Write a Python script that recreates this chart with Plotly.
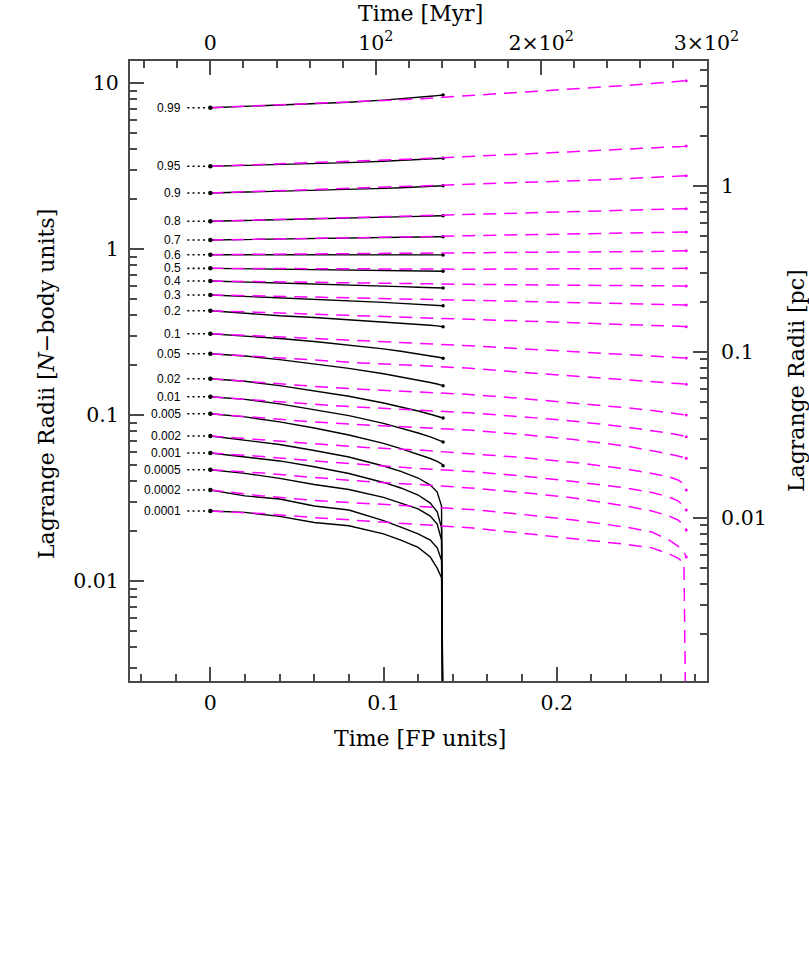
import math
import plotly.graph_objects as go

# ---------------- data ----------------
FRACTION_LABELS = ["0.0001", "0.0002", "0.0005", "0.001", "0.002", "0.005", "0.01", "0.02",
                   "0.05", "0.1", "0.2", "0.3", "0.4", "0.5", "0.6", "0.7", "0.8", "0.9",
                   "0.95", "0.99"]

# time grid of the black (solid) run, FP units
T_BLACK = [0, 0.02, 0.04, 0.06, 0.08, 0.10, 0.11, 0.12, 0.127, 0.131, 0.1335, 0.1344]

# Lagrange radii (N-body units), one row per mass fraction
R_BLACK = [
    [0.0265, 0.0260, 0.0246, 0.0226, 0.0216, 0.0193, 0.0177, 0.0160, 0.0140, 0.0120, 0.0105, 0.0008],
    [0.0355, 0.0327, 0.0313, 0.0284, 0.0269, 0.0232, 0.0212, 0.0193, 0.0177, 0.0159, 0.0134, 0.0008],
    [0.0470, 0.0447, 0.0417, 0.0383, 0.0357, 0.0320, 0.0296, 0.0273, 0.0247, 0.0221, 0.0177, 0.0008],
    [0.0593, 0.0562, 0.0531, 0.0490, 0.0446, 0.0394, 0.0365, 0.0331, 0.0296, 0.0262, 0.0210, 0.0008],
    [0.0750, 0.0710, 0.0667, 0.0614, 0.0561, 0.0495, 0.0459, 0.0419, 0.0380, 0.0345, 0.0284, 0.0008],
    [0.1022, 0.0978, 0.0913, 0.0839, 0.0761, 0.0677, 0.0630, 0.0583, 0.0549, 0.0528, 0.0510, 0.0497],
    [0.1294, 0.1248, 0.1171, 0.1083, 0.0995, 0.0894, 0.0839, 0.0782, 0.0742, 0.0718, 0.0700, 0.0691],
    [0.1661, 0.1602, 0.1510, 0.1408, 0.1303, 0.1186, 0.1125, 0.1061, 0.1015, 0.0990, 0.0971, 0.0963],
    [0.2350, 0.2276, 0.2165, 0.2043, 0.1916, 0.1778, 0.1706, 0.1632, 0.1576, 0.1544, 0.1520, 0.1508],
    [0.3101, 0.3008, 0.2900, 0.2785, 0.2655, 0.2512, 0.2432, 0.2347, 0.2283, 0.2248, 0.2220, 0.2205],
    [0.4267, 0.4115, 0.3975, 0.3883, 0.3771, 0.3652, 0.3591, 0.3527, 0.3488, 0.3459, 0.3430, 0.3416],
    [0.531, 0.521, 0.512, 0.501, 0.491, 0.479, 0.472, 0.466, 0.462, 0.460, 0.458, 0.457],
    [0.644, 0.636, 0.628, 0.620, 0.611, 0.601, 0.596, 0.591, 0.588, 0.586, 0.585, 0.585],
    [0.768, 0.764, 0.760, 0.756, 0.751, 0.745, 0.742, 0.740, 0.738, 0.737, 0.737, 0.737],
    [0.928, 0.928, 0.927, 0.927, 0.926, 0.926, 0.926, 0.925, 0.925, 0.925, 0.925, 0.925],
    [1.138, 1.144, 1.150, 1.157, 1.163, 1.173, 1.178, 1.183, 1.186, 1.190, 1.191, 1.191],
    [1.475, 1.489, 1.504, 1.520, 1.535, 1.557, 1.567, 1.578, 1.587, 1.591, 1.594, 1.594],
    [2.184, 2.208, 2.233, 2.261, 2.289, 2.327, 2.350, 2.376, 2.396, 2.406, 2.413, 2.416],
    [3.162, 3.197, 3.237, 3.282, 3.328, 3.389, 3.427, 3.470, 3.504, 3.518, 3.528, 3.533],
    [7.13, 7.25, 7.38, 7.52, 7.69, 7.92, 8.05, 8.23, 8.36, 8.43, 8.48, 8.50],
]

# time grid of the magenta (dashed) run, FP units
T_MAGENTA = [0, 0.03, 0.06, 0.09, 0.12, 0.15, 0.18, 0.21, 0.24, 0.255, 0.265, 0.27, 0.2735, 0.2748]

R_MAGENTA = [
    [0.0265, 0.0256, 0.0242, 0.0231, 0.0221, 0.0210, 0.0195, 0.0181, 0.0167, 0.0159, 0.0146, 0.0138, 0.0129, 0.0008],
    [0.0355, 0.0327, 0.0307, 0.0294, 0.0284, 0.0271, 0.0253, 0.0234, 0.0212, 0.0198, 0.0177, 0.0163, 0.0150, 0.0140],
    [0.0470, 0.0449, 0.0422, 0.0399, 0.0383, 0.0365, 0.0343, 0.0318, 0.0284, 0.0265, 0.0247, 0.0234, 0.0218, 0.0204],
    [0.0593, 0.0565, 0.0531, 0.0502, 0.0478, 0.0459, 0.0431, 0.0399, 0.0365, 0.0343, 0.0322, 0.0305, 0.0284, 0.0269],
    [0.0750, 0.0710, 0.0672, 0.0640, 0.0618, 0.0589, 0.0557, 0.0520, 0.0475, 0.0446, 0.0425, 0.0408, 0.0386, 0.0355],
    [0.1022, 0.0963, 0.0911, 0.0874, 0.0847, 0.0815, 0.0766, 0.0715, 0.0653, 0.0614, 0.0585, 0.0569, 0.0557, 0.0551],
    [0.1294, 0.1226, 0.1165, 0.1114, 0.1076, 0.1035, 0.0979, 0.0922, 0.0850, 0.0810, 0.0780, 0.0763, 0.0750, 0.0743],
    [0.1661, 0.1574, 0.1493, 0.1430, 0.1387, 0.1334, 0.1262, 0.1189, 0.1110, 0.1069, 0.1040, 0.1022, 0.1011, 0.1004],
    [0.2350, 0.2245, 0.2145, 0.2060, 0.1995, 0.1919, 0.1816, 0.1718, 0.1632, 0.1591, 0.1565, 0.1552, 0.1544, 0.1537],
    [0.3101, 0.2992, 0.2890, 0.2799, 0.2714, 0.2622, 0.2518, 0.2423, 0.2331, 0.2286, 0.2258, 0.2239, 0.2223, 0.2214],
    [0.4267, 0.4157, 0.4054, 0.3960, 0.3873, 0.3788, 0.3705, 0.3629, 0.3545, 0.3499, 0.3466, 0.3446, 0.3427, 0.3416],
    [0.531, 0.522, 0.514, 0.507, 0.500, 0.493, 0.485, 0.479, 0.472, 0.468, 0.466, 0.464, 0.462, 0.462],
    [0.644, 0.637, 0.630, 0.624, 0.619, 0.615, 0.611, 0.608, 0.604, 0.603, 0.602, 0.601, 0.601, 0.601],
    [0.768, 0.765, 0.762, 0.760, 0.758, 0.759, 0.761, 0.762, 0.764, 0.765, 0.766, 0.767, 0.768, 0.768],
    [0.928, 0.932, 0.936, 0.940, 0.945, 0.950, 0.955, 0.961, 0.967, 0.971, 0.975, 0.978, 0.979, 0.981],
    [1.138, 1.149, 1.162, 1.175, 1.191, 1.208, 1.221, 1.233, 1.248, 1.257, 1.262, 1.266, 1.269, 1.271],
    [1.475, 1.502, 1.527, 1.555, 1.587, 1.620, 1.650, 1.677, 1.705, 1.725, 1.737, 1.745, 1.752, 1.757],
    [2.184, 2.236, 2.286, 2.334, 2.396, 2.457, 2.522, 2.590, 2.662, 2.707, 2.734, 2.753, 2.765, 2.776],
    [3.162, 3.242, 3.320, 3.404, 3.509, 3.624, 3.742, 3.857, 3.993, 4.064, 4.115, 4.150, 4.173, 4.191],
    [7.13, 7.35, 7.55, 7.79, 8.04, 8.44, 8.83, 9.18, 9.70, 9.96, 10.14, 10.25, 10.32, 10.37],
]

# axis ticks
X_TICKS = [0, 0.1, 0.2]
X_TICK_TEXT = ["0", "0.1", "0.2"]
MYR_TICKS = [0, 100, 200, 300]
MYR_TICK_TEXT = ["0", "10<sup>2</sup>", "2×10<sup>2</sup>", "3×10<sup>2</sup>"]
Y_TICKS = [0.01, 0.1, 1, 10]
Y_TICK_TEXT = ["0.01", "0.1", "1", "10"]
PC_TICKS = [0.01, 0.1, 1]
PC_TICK_TEXT = ["0.01", "0.1", "1"]

# unit conversions of the secondary axes
MYR_PER_FP = 1047.0
PC_PER_NBODY = 0.415

# ---------------- layout constants ----------------
W, H = 809, 966
ML, MR, MT, MB = 130, 102, 61, 285
X_RANGE = [-0.0464, 0.2868]
Y_RANGE = [-2.6006, 1.1343]  # log10
PLOT_W = W - ML - MR
PLOT_H = H - MT - MB
PX_PER_X = PLOT_W / (X_RANGE[1] - X_RANGE[0])

SERIF = "DejaVu Serif"
SANS = "Liberation Sans, Arial, sans-serif"
AX = "#4a4a4a"
MAG = "#ff00ff"

fig = go.Figure()

# black solid run
for row in R_BLACK:
    fig.add_trace(go.Scatter(x=T_BLACK, y=row, mode="lines",
                             line=dict(color="black", width=1.4),
                             hoverinfo="skip", showlegend=False))
# end dots of the black run (only where the shell did not collapse)
bx = [T_BLACK[-1] for row in R_BLACK if row[-1] >= 10 ** Y_RANGE[0]]
by = [row[-1] for row in R_BLACK if row[-1] >= 10 ** Y_RANGE[0]]
fig.add_trace(go.Scatter(x=bx, y=by, mode="markers",
                         marker=dict(color="black", size=3.5),
                         hoverinfo="skip", showlegend=False))

# magenta dashed run
for row in R_MAGENTA:
    fig.add_trace(go.Scatter(x=T_MAGENTA, y=row, mode="lines",
                             line=dict(color=MAG, width=1.5, dash="13px,8px"),
                             hoverinfo="skip", showlegend=False))
mx = [T_MAGENTA[-1] for row in R_MAGENTA if row[-1] >= 10 ** Y_RANGE[0]]
my = [row[-1] for row in R_MAGENTA if row[-1] >= 10 ** Y_RANGE[0]]
fig.add_trace(go.Scatter(x=mx, y=my, mode="markers",
                         marker=dict(color=MAG, size=3),
                         hoverinfo="skip", showlegend=False))

# dotted leaders from labels to the starting points
lead_x0 = -23 / PX_PER_X
lead_x1 = -3 / PX_PER_X
lx, ly = [], []
for row in R_BLACK:
    lx += [T_BLACK[0] + lead_x0, T_BLACK[0] + lead_x1, None]
    ly += [row[0], row[0], None]
fig.add_trace(go.Scatter(x=lx, y=ly, mode="lines",
                         line=dict(color="black", width=1.6, dash="2px,3.2px"),
                         hoverinfo="skip", showlegend=False))

# starting dots
fig.add_trace(go.Scatter(x=[T_BLACK[0]] * len(R_BLACK), y=[row[0] for row in R_BLACK],
                         mode="markers", marker=dict(color="black", size=4.5),
                         hoverinfo="skip", showlegend=False))

# invisible trace to activate the secondary (top / right) axes
fig.add_trace(go.Scatter(x=[None], y=[None], xaxis="x2", yaxis="y2",
                         hoverinfo="skip", showlegend=False))

# mass-fraction labels
annotations = []
for lab, row in zip(FRACTION_LABELS, R_BLACK):
    annotations.append(dict(x=T_BLACK[0], y=math.log10(row[0]), xref="x", yref="y",
                            text=lab, showarrow=False, xanchor="right", yanchor="middle",
                            xshift=-27, font=dict(family=SANS, size=12, color="black")))

def px_to_paper_x(px):
    return (px - ML) / PLOT_W

def py_to_paper_y(py):
    return (H - MB - py) / PLOT_H

title_font = dict(family=SERIF, size=22, color="black")
annotations += [
    dict(x=px_to_paper_x(420), y=py_to_paper_y(738), xref="paper", yref="paper",
         text="Time [FP units]", showarrow=False, xanchor="center", yanchor="middle", font=title_font),
    dict(x=px_to_paper_x(420), y=py_to_paper_y(13), xref="paper", yref="paper",
         text="Time [Myr]", showarrow=False, xanchor="center", yanchor="middle", font=title_font),
    dict(x=px_to_paper_x(46), y=py_to_paper_y(384), xref="paper", yref="paper",
         text="Lagrange Radii [<i>N</i>−body units]", textangle=-90, showarrow=False,
         xanchor="center", yanchor="middle", font=title_font),
    dict(x=px_to_paper_x(796), y=py_to_paper_y(381), xref="paper", yref="paper",
         text="Lagrange Radii [pc]", textangle=-90, showarrow=False,
         xanchor="center", yanchor="middle", font=title_font),
]

tick_font = dict(family=SERIF, size=20.5, color="black")
common = dict(showline=True, linecolor=AX, linewidth=2, ticks="inside", ticklen=14,
              tickwidth=1.5, tickcolor=AX, showgrid=False, zeroline=False,
              tickfont=tick_font)
minor_common = dict(ticks="inside", ticklen=7, tickwidth=1.5, tickcolor=AX, showgrid=False)

fig.update_layout(
    width=W, height=H,
    margin=dict(l=ML, r=MR, t=MT, b=MB, pad=0),
    paper_bgcolor="white", plot_bgcolor="white",
    showlegend=False,
    xaxis=dict(range=X_RANGE, tickmode="array", tickvals=X_TICKS, ticktext=X_TICK_TEXT,
               minor=dict(dtick=0.02, tick0=0, **minor_common), ticklabelstandoff=2,
               **common),
    xaxis2=dict(range=[X_RANGE[0] * MYR_PER_FP, X_RANGE[1] * MYR_PER_FP], overlaying="x",
                side="top", anchor="y", tickmode="array", tickvals=MYR_TICKS,
                ticktext=MYR_TICK_TEXT, ticklabelstandoff=1,
                minor=dict(dtick=20, tick0=0, **minor_common),
                **common),
    yaxis=dict(type="log", range=Y_RANGE, tickmode="array", tickvals=Y_TICKS,
               ticktext=Y_TICK_TEXT, ticklabelstandoff=5,
               minor=dict(dtick="D1", **minor_common),
               **common),
    yaxis2=dict(type="log",
                range=[Y_RANGE[0] + math.log10(PC_PER_NBODY), Y_RANGE[1] + math.log10(PC_PER_NBODY)],
                overlaying="y", side="right", anchor="x", tickmode="array",
                tickvals=PC_TICKS, ticktext=PC_TICK_TEXT, ticklabelstandoff=8,
                minor=dict(dtick="D1", **minor_common),
                **common),
    annotations=annotations,
)

fig.write_html("out.html", config={"displayModeBar": False},
               post_script="document.body.style.margin='0px';document.body.style.padding='0px';")
